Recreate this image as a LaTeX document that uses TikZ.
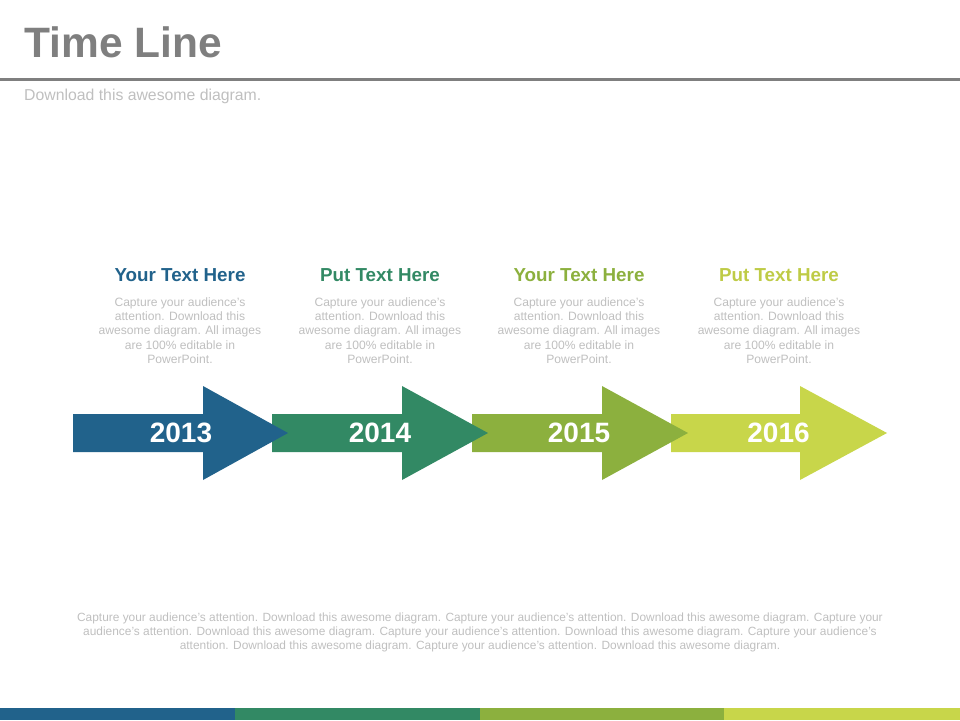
\documentclass[tikz,border=0pt]{standalone}
\usepackage{fontspec}
\setmainfont{Liberation Sans}
\usetikzlibrary{positioning}
\definecolor{tlblue}{HTML}{21628B}
\definecolor{tlgreen}{HTML}{328964}
\definecolor{tlolive}{HTML}{8CB03E}
\definecolor{tllime}{HTML}{C8D64A}
\definecolor{tlgray}{HTML}{7F7F7F}
\definecolor{tllight}{HTML}{BFBFBF}
\tikzset{
	x=1pt, y=-1pt, % one unit per pixel, y runs downwards
	year/.style={text=white, font=\bfseries\fontsize{28}{28}\selectfont, inner sep=0pt}, % year inside each arrow
	heading/.style={font=\bfseries\fontsize{18.8}{18.8}\selectfont, inner sep=0pt, text depth=4pt, anchor=base}, % coloured title of a column
	blurb/.style={text=tllight, font=\fontsize{12.1}{14.3}\selectfont, align=center, inner sep=0pt}, % grey text under a title
	node distance=11.5pt, % gap between a title and its text
}

\begin{document}
\begin{tikzpicture}
	\useasboundingbox (0,0) rectangle (960,720);
	% header
	\node[anchor=base west, text=tlgray, font=\bfseries\fontsize{42.5}{42.5}\selectfont, inner sep=0pt] (title) at (24,57) {Time Line};
	\draw[tlgray, line width=3pt] (0,79) -- (960,79);
	\node[anchor=base west, text=tllight, font=\fontsize{15.8}{15.8}\selectfont, inner sep=0pt] (sub) at (24,100.5) {Download this awesome diagram.};
	% arrows, drawn right to left so each tip lies on the next shaft
	\fill[tllime] (671,414) -- (800,414) -- (800,386) -- (887,433) -- (800,480) -- (800,452) -- (671,452) -- cycle;
	\fill[tlolive] (472,414) -- (602,414) -- (602,386) -- (688,433) -- (602,480) -- (602,452) -- (472,452) -- cycle;
	\fill[tlgreen] (272,414) -- (402,414) -- (402,386) -- (488,433) -- (402,480) -- (402,452) -- (272,452) -- cycle;
	\fill[tlblue] (73,414) -- (203,414) -- (203,386) -- (288,433) -- (203,480) -- (203,452) -- (73,452) -- cycle;
	\node[year] (y2013) at (181,433) {2013};
	\node[year] (y2014) at (380,433) {2014};
	\node[year] (y2015) at (579,433) {2015};
	\node[year] (y2016) at (778.5,433) {2016};
	% titles and texts
	\node[heading, text=tlblue] (h1) at (180,281.7) {Your Text Here};
	\node[heading, text=tlgreen] (h2) at (380,281.7) {Put Text Here};
	\node[heading, text=tlolive] (h3) at (579,281.7) {Your Text Here};
	\node[heading, text=tllime!95!black] (h4) at (779,281.7) {Put Text Here};
	\node[blurb, below=of h1] (b1) {Capture your audience's\\attention. Download this\\awesome diagram. All images\\are 100\% editable in\\PowerPoint.};
	\node[blurb, below=of h2] (b2) {Capture your audience's\\attention. Download this\\awesome diagram. All images\\are 100\% editable in\\PowerPoint.};
	\node[blurb, below=of h3] (b3) {Capture your audience's\\attention. Download this\\awesome diagram. All images\\are 100\% editable in\\PowerPoint.};
	\node[blurb, below=of h4] (b4) {Capture your audience's\\attention. Download this\\awesome diagram. All images\\are 100\% editable in\\PowerPoint.};
	% footer text
	\node[blurb, font=\fontsize{11.9}{14}\selectfont, anchor=north] (foot) at (480,612.5) {Capture your audience's attention. Download this awesome diagram. Capture your audience's attention. Download this awesome diagram. Capture your\\audience's attention. Download this awesome diagram. Capture your audience's attention. Download this awesome diagram. Capture your audience's\\attention. Download this awesome diagram. Capture your audience's attention. Download this awesome diagram.};
	% bottom bar
	\fill[tlblue] (0,708) rectangle (235,720);
	\fill[tlgreen] (235,708) rectangle (480,720);
	\fill[tlolive] (480,708) rectangle (724,720);
	\fill[tllime] (724,708) rectangle (960,720);
\end{tikzpicture}
\end{document}
